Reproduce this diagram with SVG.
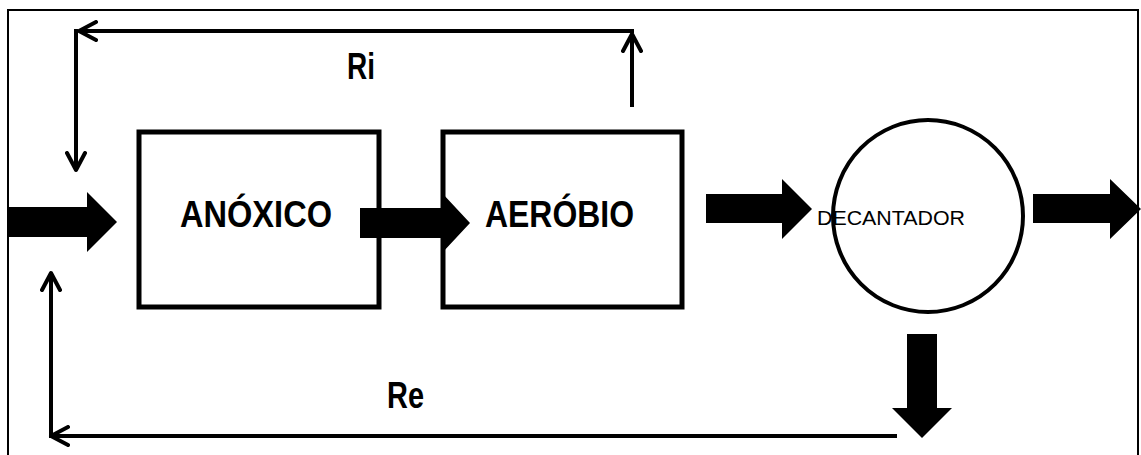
<svg xmlns="http://www.w3.org/2000/svg" width="1141" height="455" viewBox="0 0 1141 455">
<defs>
<style>
.box{fill:#fff;stroke:#000;stroke-width:5}
.blk{fill:#000;stroke:none}
.ln{fill:none;stroke:#000;stroke-width:4}
.lbl{font-family:"Liberation Sans",Arial,sans-serif;font-weight:bold;font-size:36px;fill:#000}
.thin{font-family:"Liberation Sans",Arial,sans-serif;font-size:21px;fill:#000}
</style>
<marker id="chev" viewBox="0 0 22 22" markerWidth="22" markerHeight="22" markerUnits="userSpaceOnUse" refX="19" refY="11" orient="auto">
<path d="M2,2 L19,11 L2,20" fill="none" stroke="#000" stroke-width="4" stroke-linejoin="round" stroke-linecap="round"/>
</marker>
</defs>
<rect width="1141" height="455" fill="#fff"/>
<g id="frame">
<path d="M8,470 L8,10 L1138,10 L1138,470" fill="none" stroke="#000" stroke-width="2"/>
</g>
<g id="anoxico">
<rect class="box" x="139" y="132" width="240" height="175"/>
<text class="lbl" x="180" y="227" textLength="152" lengthAdjust="spacingAndGlyphs">ANÓXICO</text>
</g>
<g id="aerobio">
<rect class="box" x="443" y="132" width="239" height="175"/>
<text class="lbl" x="485" y="227" textLength="149" lengthAdjust="spacingAndGlyphs">AERÓBIO</text>
</g>
<g id="decantador">
<ellipse cx="928" cy="216" rx="95" ry="96" fill="#fff" stroke="#000" stroke-width="4"/>
</g>
<g id="connectors">
<polygon class="blk" points="8,207 87,207 87,192 117,222 87,252 87,237 8,237"/>
<polygon class="blk" points="360,208 442,208 442,193 470,223 442,253 442,238 360,238"/>
<polygon class="blk" points="706,194 782,194 782,179 812,209 782,239 782,223 706,223"/>
<polygon class="blk" points="1033,194 1110,194 1110,179 1141,209 1110,239 1110,223 1033,223"/>
<polygon class="blk" points="907,334 937,334 937,408 952,408 922,438 892,408 907,408"/>
<path class="ln" d="M632,107 L632,34" marker-end="url(#chev)"/>
<path class="ln" d="M634,31 L79,31" marker-end="url(#chev)"/>
<path class="ln" d="M76,29 L76,170" marker-end="url(#chev)"/>
<path class="ln" d="M897,436 L51,436" marker-end="url(#chev)"/>
<path class="ln" d="M51,438 L51,273" marker-end="url(#chev)"/>
</g>
<g id="labels">
<text class="thin" x="817" y="225" textLength="148" lengthAdjust="spacingAndGlyphs">DECANTADOR</text>
<text class="lbl" x="347" y="79" textLength="28" lengthAdjust="spacingAndGlyphs">Ri</text>
<text class="lbl" x="387" y="408" textLength="37" lengthAdjust="spacingAndGlyphs">Re</text>
</g>
</svg>
